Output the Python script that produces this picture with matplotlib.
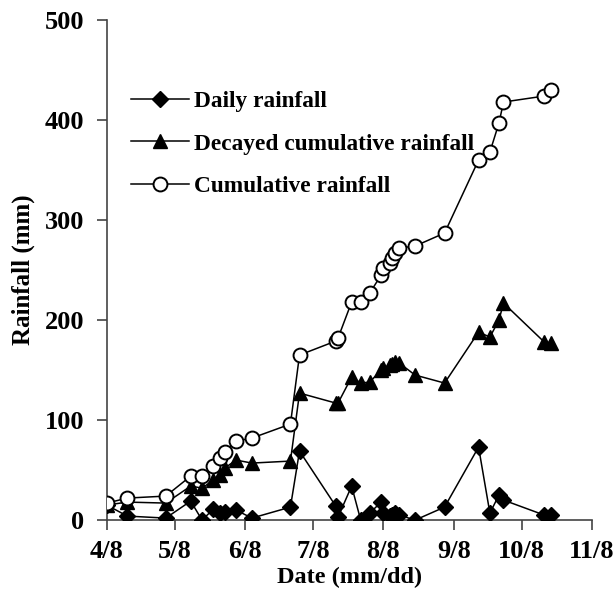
import datetime as dt

import matplotlib
matplotlib.use('Agg')
import matplotlib.pyplot as plt

# observation dates (mm/dd), same for all three series
dates = ['4/8', '4/17', '5/4', '5/15', '5/20', '5/25', '5/28', '5/30', '6/4',
         '6/11', '6/28', '7/2', '7/18', '7/19', '7/25', '7/29', '8/2', '8/7',
         '8/8', '8/11', '8/12', '8/13', '8/15', '8/22', '9/4', '9/19', '9/24',
         '9/28', '9/30', '10/18', '10/21']

daily = [15, 4, 2, 19, 0, 11, 7, 8, 10,
         2, 13, 69, 14, 3, 34, 0, 7, 18,
         7, 4, 5, 7, 5, 0, 13, 73, 7,
         25, 20, 5, 5]

decayed = [15, 18, 17, 34, 32, 40, 45, 52, 60,
           57, 59, 127, 117, 117, 143, 137, 138, 150,
           152, 155, 156, 158, 157, 145, 137, 188, 183,
           200, 217, 178, 177]

cumulative = [17, 22, 24, 44, 44, 54, 62, 68, 79,
              82, 96, 165, 179, 182, 218, 218, 227, 245,
              252, 257, 262, 267, 272, 274, 287, 360, 368,
              397, 418, 424, 430]

tick_dates = ['4/8', '5/8', '6/8', '7/8', '8/8', '9/8', '10/8', '11/8']
yticks = [0, 100, 200, 300, 400, 500]

YEAR = 2013


def to_date(s):
    m, d = s.split('/')
    return dt.date(YEAR, int(m), int(d))


x = [to_date(s) for s in dates]
xt = [to_date(s) for s in tick_dates]

plt.rcParams['font.family'] = ['Liberation Serif', 'DejaVu Serif']
plt.rcParams['font.weight'] = 'bold'

fig = plt.figure(figsize=(6.14, 5.89), dpi=100)
ax = fig.add_axes([0.174, 0.117, 0.79, 0.849])

ax.plot(x, daily, color='black', lw=1.1, marker='D', ms=8.5,
        mfc='black', mec='black', label='Daily rainfall', zorder=3)
ax.plot(x, decayed, color='black', lw=1.1, marker='^', ms=10,
        mfc='black', mec='black', label='Decayed cumulative rainfall', zorder=3)
ax.plot(x, cumulative, color='black', lw=1.1, marker='o', ms=10,
        mfc='white', mec='black', mew=1.4, label='Cumulative rainfall', zorder=3)

ax.set_xlim(xt[0], xt[-1])
ax.set_ylim(0, 500)
ax.set_xticks(xt)
ax.set_xticklabels(tick_dates)
ax.set_yticks(yticks)

for side in ['top', 'right']:
    ax.spines[side].set_visible(False)
for side in ['left', 'bottom']:
    ax.spines[side].set_color('#444444')
    ax.spines[side].set_linewidth(1.2)

ax.tick_params(axis='both', direction='out', length=7, width=1.2,
               color='#444444', labelsize=19)
ax.tick_params(axis='y', pad=9)
ax.tick_params(axis='x', pad=7)
for lbl in ax.get_xticklabels() + ax.get_yticklabels():
    lbl.set_fontweight('bold')

ax.set_xlabel('Date (mm/dd)', fontsize=17.5, fontweight='bold', labelpad=3)
ax.set_ylabel('Rainfall (mm)', fontsize=18, fontweight='bold', labelpad=7)

leg = ax.legend(loc='upper left', bbox_to_anchor=(0.03, 0.878), frameon=False,
                fontsize=16.8, handlelength=2.5, handletextpad=0.2,
                labelspacing=0.92, borderaxespad=0)
for t in leg.get_texts():
    t.set_fontweight('bold')

fig.savefig('out.png', dpi=100)
